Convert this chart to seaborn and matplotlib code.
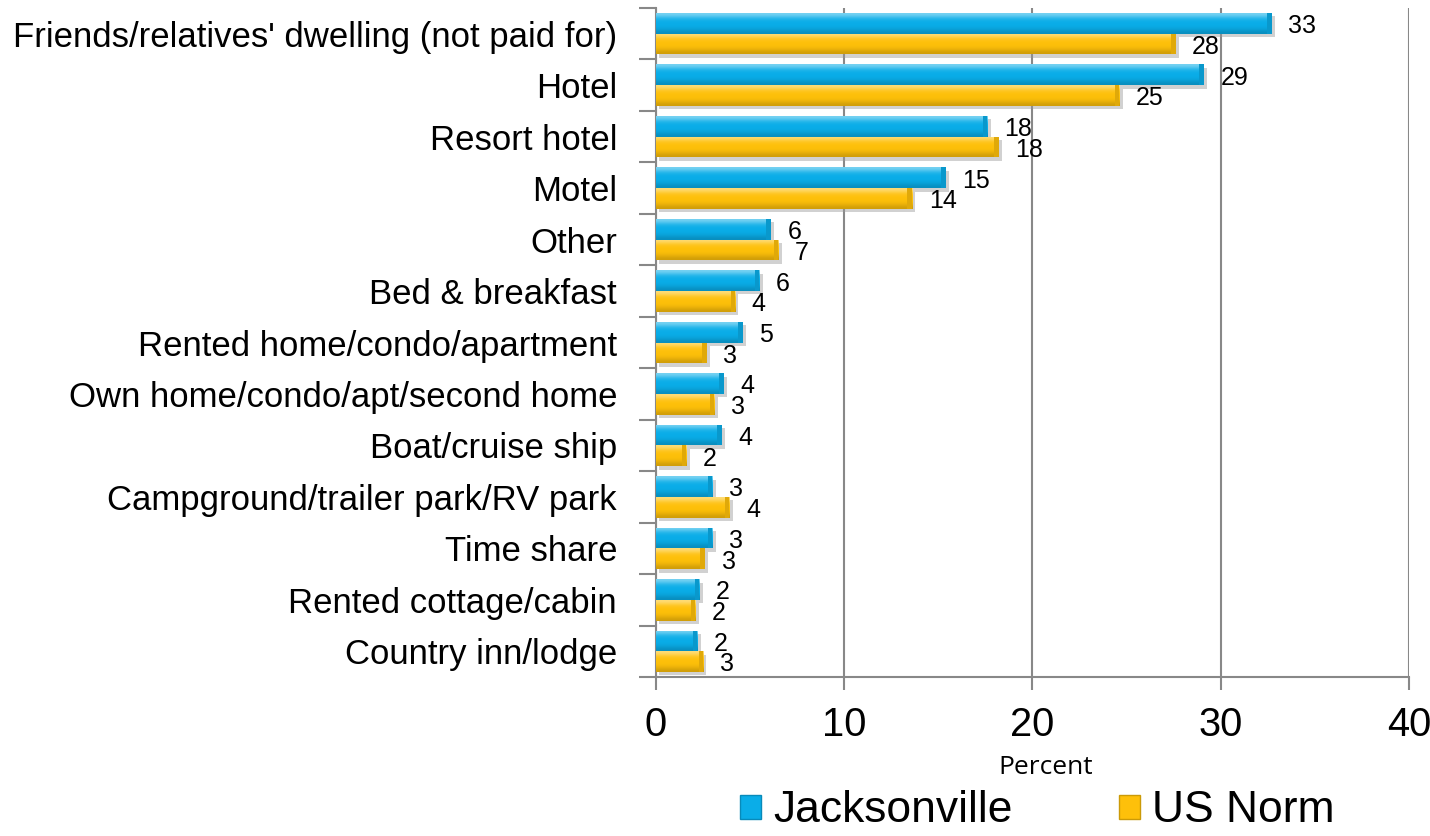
import numpy as np
import pandas as pd
import seaborn as sns
import matplotlib
matplotlib.use("Agg")
import matplotlib.pyplot as plt
import matplotlib.patheffects as pe
from matplotlib import font_manager
from matplotlib.colors import to_rgb
from matplotlib.patches import Rectangle

# ---- data -------------------------------------------------------------
categories = [
    "Friends/relatives' dwelling (not paid for)",
    "Hotel",
    "Resort hotel",
    "Motel",
    "Other",
    "Bed & breakfast",
    "Rented home/condo/apartment",
    "Own home/condo/apt/second home",
    "Boat/cruise ship",
    "Campground/trailer park/RV park",
    "Time share",
    "Rented cottage/cabin",
    "Country inn/lodge",
]
jacksonville = [32.7, 29.1, 17.6, 15.4, 6.1, 5.5, 4.6, 3.6, 3.5, 3.0, 3.0, 2.3, 2.2]
us_norm = [27.6, 24.6, 18.2, 13.6, 6.5, 4.2, 2.7, 3.1, 1.6, 3.9, 2.6, 2.1, 2.5]
series_names = ["Jacksonville", "US Norm"]
x_ticks = [0, 10, 20, 30, 40]
x_label = "Percent"

df = pd.DataFrame({
    "Accommodation": categories * 2,
    "Percent": jacksonville + us_norm,
    "Market": [series_names[0]] * len(categories) + [series_names[1]] * len(categories),
})

# ---- style ------------------------------------------------------------
sns.set_theme(style="white")
available = {f.name for f in font_manager.fontManager.ttflist}
if "Liberation Sans Narrow" in available:
    main_font, k = "Liberation Sans Narrow", 1.0
else:
    main_font, k = "Liberation Sans", 0.82
plt.rcParams["font.family"] = [main_font, "DejaVu Sans"]
plt.rcParams["text.color"] = "black"

palette = {"Jacksonville": "#0AADE8", "US Norm": "#FEC00A"}
grey = "#888888"


def mix(color, f):
    c = np.array(to_rgb(color))
    if f >= 0:
        return tuple(c + (1 - c) * f)
    return tuple(c * (1 + f))


fig = plt.figure(figsize=(14.3, 8.36), dpi=100)
ax = fig.add_axes([0.4587, 0.19, 0.5266, 0.8006])

sns.barplot(
    data=df, y="Accommodation", x="Percent", hue="Market",
    hue_order=series_names, order=categories, palette=palette,
    orient="h", width=0.8, saturation=1, errorbar=None,
    linewidth=0, ax=ax, zorder=3,
)

handles, labels = ax.get_legend_handles_labels()
if ax.get_legend() is not None:
    ax.get_legend().remove()

# bevelled look: vertical shading, darker end cap and soft shadow
px_per_unit = ax.get_position().width * fig.get_figwidth() * fig.dpi / 40.0
cap = 4.5 / px_per_unit
for container, name in zip(ax.containers, series_names):
    base = palette[name]
    stops = [mix(base, 0.45), mix(base, 0.1), mix(base, 0), mix(base, 0),
             mix(base, -0.05), mix(base, -0.18)]
    grad = np.array(stops, dtype=float)[:, None, :]
    for bar in container:
        bar.set_path_effects([
            pe.SimplePatchShadow(offset=(2.5, -2.5), shadow_rgbFace="#999999", alpha=0.45),
            pe.Normal(),
        ])
        x0, y0 = bar.get_x(), bar.get_y()
        w, h = bar.get_width(), bar.get_height()
        im = ax.imshow(grad, extent=(x0, x0 + w, y0 + h, y0), aspect="auto",
                       interpolation="bicubic", origin="upper", zorder=3.1)
        im.set_clip_path(bar)
        ax.add_patch(Rectangle((x0 + w - cap, y0), cap, h, facecolor=mix(base, -0.12),
                               edgecolor="none", zorder=3.2, clip_path=bar))

# value labels
for container in ax.containers:
    for bar, v in zip(container, container.datavalues):
        ax.annotate(f"{int(v + 0.5)}",
                    xy=(bar.get_x() + bar.get_width(), bar.get_y() + bar.get_height() / 2),
                    xytext=(12, -2), textcoords="offset points",
                    ha="left", va="center", fontsize=22 * k, color="black", zorder=5)

# axes
ax.set_xlim(0, 40)
ax.set_ylim(len(categories) - 0.5, -0.5)
ax.set_xticks(x_ticks)
ax.set_xticklabels([str(t) for t in x_ticks])
ax.set_yticks(np.arange(len(categories)))
ax.set_yticklabels(categories)
ax.set_yticks(np.arange(-0.5, len(categories), 1), minor=True)
ax.set_ylabel("")
ax.set_xlabel(x_label, fontsize=19, family=["Open Sans", "DejaVu Sans"], color="black")
ax.xaxis.set_label_coords(0.517, -0.116)

ax.grid(axis="x", color=grey, linewidth=1.5, zorder=0)
ax.grid(axis="y", visible=False)
ax.set_axisbelow(True)
for s in ("top", "right"):
    ax.spines[s].set_visible(False)
for s in ("left", "bottom"):
    ax.spines[s].set_color(grey)
    ax.spines[s].set_linewidth(1.5)

ax.tick_params(axis="y", which="major", left=False, length=0, pad=28,
               labelsize=30.5 * k, labelcolor="black")
ax.tick_params(axis="y", which="minor", left=True, length=12, width=1.5,
               color=grey, direction="out")
ax.tick_params(axis="x", which="major", bottom=True, length=9, width=1.5,
               color=grey, direction="out", pad=12, labelsize=35 * k, labelcolor="black")

for hnd, name in zip(handles, series_names):
    hnd.set_edgecolor(mix(palette[name], -0.2))
    hnd.set_linewidth(1.0)

leg = fig.legend(handles, labels, loc="center", bbox_to_anchor=(0.7255, 0.03), ncol=2,
                 frameon=False, fontsize=39 * k, handlelength=0.46, handleheight=0.46,
                 handletextpad=0.28, columnspacing=2.4, borderaxespad=0, borderpad=0)
for t in leg.get_texts():
    t.set_color("black")

fig.savefig("out.png", dpi=100)
